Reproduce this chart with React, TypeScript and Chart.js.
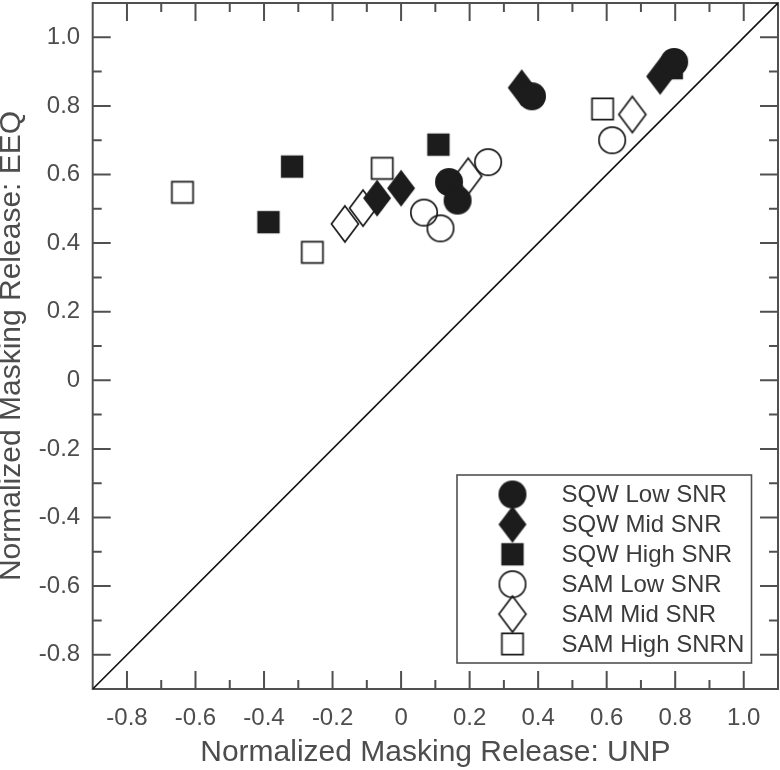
import React, { useEffect, useRef } from 'react';
import { Chart, registerables } from 'chart.js';

Chart.register(...registerables);

// ---- data ----
const SERIES_LABELS = ['SQW Low SNR', 'SQW Mid SNR', 'SQW High SNR', 'SAM Low SNR', 'SAM Mid SNR', 'SAM High SNRN'];
const SQW_LOW_X = [0.14, 0.165, 0.382, 0.797];
const SQW_LOW_Y = [0.578, 0.524, 0.828, 0.928];
const SQW_MID_X = [-0.07, 0.0, 0.352, 0.756];
const SQW_MID_Y = [0.531, 0.56, 0.853, 0.886];
const SQW_HIGH_X = [-0.387, -0.318, 0.109, 0.79];
const SQW_HIGH_Y = [0.461, 0.623, 0.687, 0.91];
const SAM_LOW_X = [0.067, 0.115, 0.254, 0.616];
const SAM_LOW_Y = [0.489, 0.443, 0.636, 0.7];
const SAM_MID_X = [-0.164, -0.111, 0.196, 0.675];
const SAM_MID_Y = [0.456, 0.502, 0.595, 0.775];
const SAM_HIGH_X = [-0.638, -0.259, -0.055, 0.588];
const SAM_HIGH_Y = [0.548, 0.373, 0.618, 0.791];
const DIAG_X = [-0.9, 1.1];
const DIAG_Y = [-0.9, 1.1];
const AXIS_MIN = -0.9;
const AXIS_MAX = 1.1;
const MAJOR_TICKS = [-0.8, -0.6, -0.4, -0.2, 0, 0.2, 0.4, 0.6, 0.8, 1.0];
const TICK_LABELS = ['-0.8', '-0.6', '-0.4', '-0.2', '0', '0.2', '0.4', '0.6', '0.8', '1.0'];
const MINOR_TICKS = [-0.7, -0.5, -0.3, -0.1, 0.1, 0.3, 0.5, 0.7, 0.9];
const X_TITLE = 'Normalized Masking Release: UNP';
const Y_TITLE = 'Normalized Masking Release: EEQ';

const FONT = '"Liberation Sans", Arial, Helvetica, sans-serif';
const AXIS_COLOR = '#505050';
const TEXT_COLOR = '#4d4d4d';
const LEGEND_TEXT = '#3a3a3a';
const MARK_COLOR = '#1c1c1c';

const zip = (xs: number[], ys: number[]) => xs.map((x, i) => ({ x, y: ys[i] }));

function makeMarker(shape: string, filled: boolean): HTMLCanvasElement {
  const c = document.createElement('canvas');
  c.width = 44;
  c.height = 44;
  const g = c.getContext('2d')!;
  g.translate(22, 22);
  g.beginPath();
  if (shape === 'circle') {
    g.arc(0, 0, filled ? 14 : 13.2, 0, Math.PI * 2);
  } else if (shape === 'diamond') {
    const hw = filled ? 14 : 13.5;
    const hh = filled ? 18.5 : 18;
    g.moveTo(0, -hh);
    g.lineTo(hw, 0);
    g.lineTo(0, hh);
    g.lineTo(-hw, 0);
    g.closePath();
  } else {
    const h = filled ? 11.2 : 10.6;
    g.rect(-h, -h, 2 * h, 2 * h);
  }
  if (filled) {
    g.fillStyle = MARK_COLOR;
    g.fill();
  } else {
    g.strokeStyle = MARK_COLOR;
    g.lineWidth = 1.7;
    g.stroke();
  }
  return c;
}

const framePlugin = {
  id: 'frameTicks',
  beforeDatasetsDraw(chart: any) {
    const { ctx, chartArea: a, scales } = chart;
    const xs = scales.x;
    const ys = scales.y;
    ctx.save();
    ctx.strokeStyle = AXIS_COLOR;
    ctx.lineWidth = 2;
    ctx.beginPath();
    const draw = (vals: number[], len: number) => {
      for (const v of vals) {
        const px = xs.getPixelForValue(v);
        ctx.moveTo(px, a.bottom);
        ctx.lineTo(px, a.bottom - len);
        ctx.moveTo(px, a.top);
        ctx.lineTo(px, a.top + len);
        const py = ys.getPixelForValue(v);
        ctx.moveTo(a.left, py);
        ctx.lineTo(a.left + len, py);
        ctx.moveTo(a.right, py);
        ctx.lineTo(a.right - len, py);
      }
    };
    draw(MAJOR_TICKS, 18);
    draw(MINOR_TICKS, 9);
    ctx.stroke();
    ctx.strokeRect(a.left, a.top, a.right - a.left, a.bottom - a.top);
    ctx.restore();
  },
};

const legendPlugin = {
  id: 'insideLegend',
  afterDatasetsDraw(chart: any) {
    const { ctx, chartArea: a } = chart;
    const right = a.right - 26.5;
    const bottom = a.bottom - 26;
    const w = 294.5;
    const h = 188;
    const left = right - w;
    const top = bottom - h;
    ctx.save();
    ctx.fillStyle = '#ffffff';
    ctx.fillRect(left, top, w, h);
    ctx.strokeStyle = AXIS_COLOR;
    ctx.lineWidth = 1.6;
    ctx.strokeRect(left, top, w, h);
    ctx.font = `24px ${FONT}`;
    ctx.fillStyle = LEGEND_TEXT;
    ctx.textBaseline = 'middle';
    ctx.textAlign = 'left';
    const ds = chart.data.datasets.filter((d: any) => d.inLegend);
    ds.forEach((d: any, i: number) => {
      const cy = top + 19.5 + i * 29.9;
      const img = d.pointStyle as HTMLCanvasElement;
      ctx.drawImage(img, left + 55.5 - img.width / 2, cy - img.height / 2);
      ctx.fillText(d.label, left + 104.5, cy + 1);
    });
    ctx.restore();
  },
};

const zeroPad = (s: any) => {
  s.paddingTop = 0;
  s.paddingBottom = 0;
  s.paddingLeft = 0;
  s.paddingRight = 0;
};

export default function App() {
  const ref = useRef<HTMLCanvasElement | null>(null);

  useEffect(() => {
    document.body.style.margin = '0';
    const markers = [
      makeMarker('circle', true),
      makeMarker('diamond', true),
      makeMarker('square', true),
      makeMarker('circle', false),
      makeMarker('diamond', false),
      makeMarker('square', false),
    ];
    const seriesData = [
      zip(SQW_LOW_X, SQW_LOW_Y),
      zip(SQW_MID_X, SQW_MID_Y),
      zip(SQW_HIGH_X, SQW_HIGH_Y),
      zip(SAM_LOW_X, SAM_LOW_Y),
      zip(SAM_MID_X, SAM_MID_Y),
      zip(SAM_HIGH_X, SAM_HIGH_Y),
    ];
    const datasets: any[] = SERIES_LABELS.map((label, i) => ({
      label,
      data: seriesData[i],
      pointStyle: markers[i],
      pointRadius: 14,
      showLine: false,
      inLegend: true,
    }));
    datasets.push({
      label: 'y = x',
      data: zip(DIAG_X, DIAG_Y),
      showLine: true,
      borderColor: '#111111',
      borderWidth: 1.6,
      pointRadius: 0,
      inLegend: false,
    });

    const tickFont = { family: FONT, size: 24 };
    const titleFont = { family: FONT, size: 30, lineHeight: 1 };
    const setTicks = (s: any) => {
      s.ticks = MAJOR_TICKS.map((v) => ({ value: v }));
    };

    const chart = new Chart(ref.current!, {
      type: 'scatter',
      data: { datasets },
      options: {
        animation: false,
        responsive: false,
        events: [],
        layout: { autoPadding: false, padding: { top: 3, right: 2, left: 0, bottom: 0 } },
        plugins: { legend: { display: false }, tooltip: { enabled: false } },
        scales: {
          x: {
            type: 'linear',
            min: AXIS_MIN,
            max: AXIS_MAX,
            afterBuildTicks: setTicks,
            afterFit: (s: any) => {
              s.height = 81;
              zeroPad(s);
            },
            ticks: {
              callback: (_v: any, i: number) => TICK_LABELS[i],
              font: tickFont,
              color: TEXT_COLOR,
              padding: 15,
              autoSkip: false,
              maxRotation: 0,
            },
            grid: { display: false, drawTicks: false },
            border: { display: false },
            title: { display: true, text: X_TITLE, font: titleFont, color: TEXT_COLOR, padding: { top: 0, bottom: 2 } },
          },
          y: {
            type: 'linear',
            min: AXIS_MIN,
            max: AXIS_MAX,
            afterBuildTicks: setTicks,
            afterFit: (s: any) => {
              s.width = 92.7;
              zeroPad(s);
            },
            ticks: {
              callback: (_v: any, i: number) => TICK_LABELS[i],
              font: tickFont,
              color: TEXT_COLOR,
              padding: 12.5,
              autoSkip: false,
            },
            grid: { display: false, drawTicks: false },
            border: { display: false },
            title: { display: true, text: Y_TITLE, font: titleFont, color: TEXT_COLOR, padding: { top: -3, bottom: 0 } },
          },
        },
      } as any,
      plugins: [framePlugin, legendPlugin],
    });
    return () => chart.destroy();
  }, []);

  return (
    <div style={{ position: 'absolute', left: 0, top: 0, width: 780, height: 770 }}>
      <canvas ref={ref} width={780} height={770} style={{ width: 780, height: 770, display: 'block' }} />
    </div>
  );
}
